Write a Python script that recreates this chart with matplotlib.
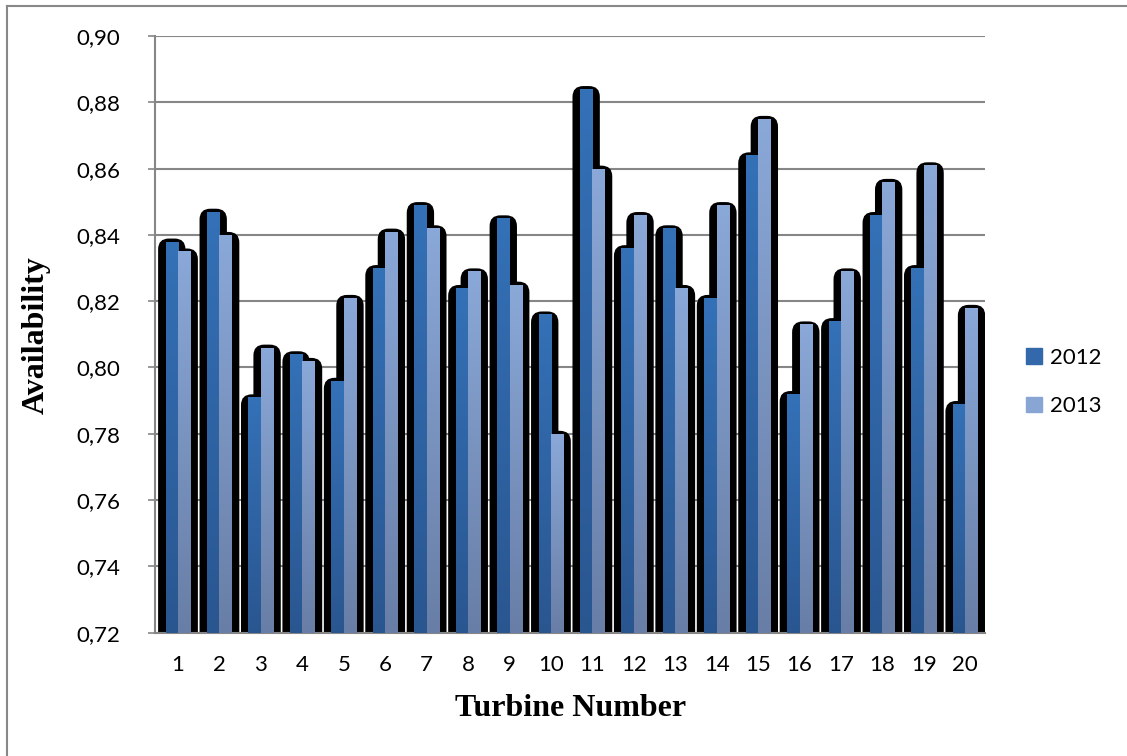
import numpy as np
import matplotlib.pyplot as plt
from matplotlib.patches import FancyBboxPatch, Patch
from matplotlib.colors import LinearSegmentedColormap
from matplotlib.lines import Line2D
from matplotlib.ticker import FuncFormatter

# turbine availability
turbines = list(range(1, 21))
avail_2012 = [0.838, 0.847, 0.791, 0.804, 0.796, 0.830, 0.849, 0.824, 0.845, 0.816,
              0.884, 0.836, 0.842, 0.821, 0.864, 0.792, 0.814, 0.846, 0.830, 0.789]
avail_2013 = [0.835, 0.840, 0.806, 0.802, 0.821, 0.841, 0.842, 0.829, 0.825, 0.780,
              0.860, 0.846, 0.824, 0.849, 0.875, 0.813, 0.829, 0.856, 0.861, 0.818]
series_names = ['2012', '2013']

y_min, y_max = 0.72, 0.90
y_ticks = np.arange(0.72, 0.9001, 0.02)

# colours (bottom -> top gradient)
grad_2012 = LinearSegmentedColormap.from_list('g12', ['#2a5690', '#3471b7'])
grad_2013 = LinearSegmentedColormap.from_list('g13', ['#687ea6', '#8aa8d8'])
grid_col = '#868686'

fig = plt.figure(figsize=(11.27, 7.56), dpi=100)
ax = fig.add_axes([155 / 1127, 1 - 632.7 / 756, 830 / 1127, 596.7 / 756])

bar_w = 0.30
x = np.array(turbines, dtype=float)
pos_2012 = x - bar_w / 2
pos_2013 = x + bar_w / 2

# black rounded "shadow" behind each bar
ext = 0.18
rad = 0.26
# y units per pixel / x units per pixel
aspect = (0.18 / 596.7) / (20.03 / 830)
for pos, vals in [(pos_2012, avail_2012), (pos_2013, avail_2013)]:
    for p, v in zip(pos, vals):
        sh = FancyBboxPatch((p - bar_w / 2 - ext, y_min - 0.01),
                            bar_w + 2 * ext, v + 0.0009 - (y_min - 0.01),
                            boxstyle='round,pad=0,rounding_size=%f' % rad,
                            mutation_aspect=aspect, fc='black', ec='none', zorder=2)
        ax.add_patch(sh)

# coloured bars with a vertical gradient
grad = np.linspace(0, 1, 256).reshape(-1, 1)
bars_12 = ax.bar(pos_2012, np.array(avail_2012) - y_min, bar_w, bottom=y_min,
                 color='#3368ab', zorder=3, label=series_names[0])
bars_13 = ax.bar(pos_2013, np.array(avail_2013) - y_min, bar_w, bottom=y_min,
                 color='#88a5d4', zorder=3, label=series_names[1])
for bars, cmap in [(bars_12, grad_2012), (bars_13, grad_2013)]:
    for r in bars:
        x0, y0 = r.get_x(), r.get_y()
        im = ax.imshow(grad, cmap=cmap, origin='lower', aspect='auto', zorder=4,
                       extent=[x0, x0 + r.get_width(), y0, y0 + r.get_height()])
        im.set_clip_path(r)

ax.set_xlim(0.445, 20.475)
ax.set_ylim(y_min, y_max)
ax.set_yticks(y_ticks)
ax.yaxis.set_major_formatter(FuncFormatter(lambda v, _: ('%.2f' % v).replace('.', ',')))
ax.set_xticks(turbines)
ax.grid(axis='y', color=grid_col, lw=1.5, zorder=0)
ax.set_axisbelow(True)

for s in ['top', 'right']:
    ax.spines[s].set_visible(False)
for s in ['left', 'bottom']:
    ax.spines[s].set_color(grid_col)
    ax.spines[s].set_linewidth(1.5)

ax.tick_params(axis='y', length=5, width=1.2, color=grid_col, pad=20,
               labelsize=16, labelfontfamily='Lato')
ax.tick_params(axis='x', length=0, pad=16, labelsize=16, labelfontfamily='Lato')

fig.text(571 / 1127, 1 - 709 / 756, 'Turbine Number', ha='center', va='center',
         fontsize=23, fontweight='bold', family='Liberation Serif')
fig.text(36 / 1127, 1 - 335 / 756, 'Availability', ha='center', va='center',
         rotation=90, fontsize=23, fontweight='bold', family='Liberation Serif')

handles = [Patch(color='#3368ab', label=series_names[0]),
           Patch(color='#88a5d4', label=series_names[1])]
fig.legend(handles=handles, loc='center left', bbox_to_anchor=(1006 / 1127, 1 - 382 / 756),
           frameon=False, prop={'family': 'Lato', 'size': 16},
           handlelength=0.7, handleheight=0.7, handletextpad=0.4, labelspacing=1.3)

# outer border of the chart
fig.add_artist(Line2D([7 / 1127, 7 / 1127], [0, 1 - 6 / 756], color='#888888', lw=1.5))
fig.add_artist(Line2D([7 / 1127, 1], [1 - 6 / 756, 1 - 6 / 756], color='#888888', lw=1.5))

fig.savefig('out.png', dpi=100)
